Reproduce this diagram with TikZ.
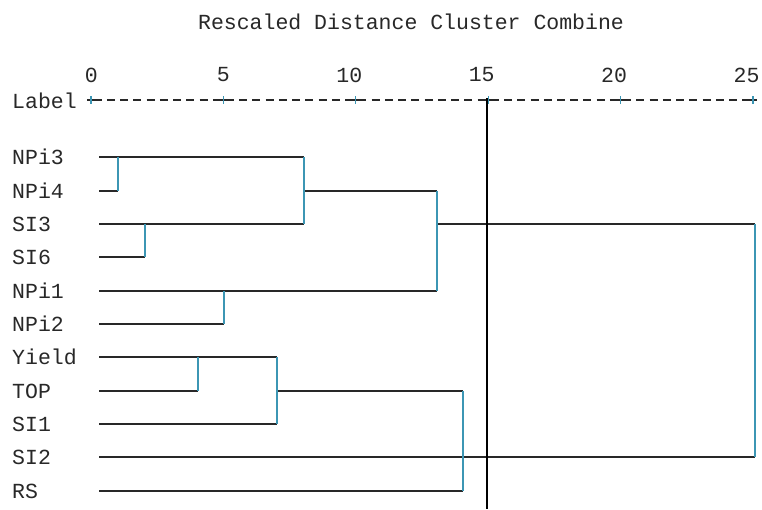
\documentclass[tikz,border=0pt]{standalone}
\usepackage{fontspec}
\usepackage{tikz}
\newfontfamily\spssfont{Liberation Mono}
\definecolor{inkgray}{RGB}{40,40,40}
\definecolor{vteal}{RGB}{60,150,180}
\tikzset{lbl/.style = {font = \spssfont\fontsize{21.5}{21.5}\selectfont, text = inkgray, inner sep = 0}}
\tikzset{hline/.style = {draw = inkgray, line width = 1.3pt}}
\tikzset{vline/.style = {draw = vteal, line width = 1.3pt}}

\begin{document}
\begin{tikzpicture}[x = 1pt, y = -1pt]
    \useasboundingbox (0, 0) rectangle (762, 509);

    \node [lbl] (title) at (411, 22) {Rescaled Distance Cluster Combine};

    % scale along the top
    \node [lbl, anchor = west] (label) at (12, 101) {Label};
    \coordinate (ax0) at (91, 100);
    \coordinate (ax25) at (753, 100);
    \draw [inkgray, line width = 1.3pt, dash pattern = on 8pt off 5.24pt, dash phase = -2.6pt] (ax0) -- (ax25);
    \foreach \v in {0, 5, ..., 25} {
        \draw [inkgray, line width = 1.3pt] ({91 + 26.48*\v - 4}, 100) -- +(8, 0);
        \draw [vteal, line width = 1.1pt] ({91 + 26.48*\v}, 96) -- +(0, 8);
    }
    \node [lbl, anchor = east] (t0) at (98, 75) {0};
    \foreach \v in {5, 10, ..., 25} {
        \node [lbl, anchor = east] (t\v) at ({91 + 26.48*\v + 6.6}, 75) {\v};
    }

    % leaves
    \foreach \name/\y in {NPi3/157, NPi4/191, SI3/224, SI6/257, NPi1/291, NPi2/324,
                          Yield/357, TOP/391, SI1/424, SI2/457, RS/491} {
        \node [lbl, anchor = west] (\name) at (12, \y) {\name};
        \coordinate (\name-s) at (99, \y);
    }

    % merge points
    \coordinate (a1) at (118, 157);   \coordinate (a2) at (118, 191);
    \coordinate (b1) at (145, 224);   \coordinate (b2) at (145, 257);
    \coordinate (c1) at (304, 157);   \coordinate (c2) at (304, 224);   \coordinate (cm) at (304, 191);
    \coordinate (d1) at (224, 291);   \coordinate (d2) at (224, 324);
    \coordinate (e1) at (437, 191);   \coordinate (e2) at (437, 291);   \coordinate (em) at (437, 224);
    \coordinate (f1) at (198, 357);   \coordinate (f2) at (198, 391);
    \coordinate (g1) at (277, 357);   \coordinate (g2) at (277, 424);   \coordinate (gm) at (277, 391);
    \coordinate (h1) at (463, 391);   \coordinate (h2) at (463, 491);
    \coordinate (k1) at (755, 224);   \coordinate (k2) at (755, 457);

    \draw [hline] (NPi3-s) -- (c1);
    \draw [hline] (NPi4-s) -- (a2);
    \draw [hline] (SI3-s) -- (c2);
    \draw [hline] (SI6-s) -- (b2);
    \draw [hline] (cm) -- (e1);
    \draw [hline] (NPi1-s) -- (e2);
    \draw [hline] (NPi2-s) -- (d2);
    \draw [hline] (em) -- (k1);
    \draw [hline] (Yield-s) -- (g1);
    \draw [hline] (TOP-s) -- (f2);
    \draw [hline] (SI1-s) -- (g2);
    \draw [hline] (gm) -- (h1);
    \draw [hline] (SI2-s) -- (k2);
    \draw [hline] (RS-s) -- (h2);

    \draw [vline] (a1) -- (a2);
    \draw [vline] (b1) -- (b2);
    \draw [vline] (c1) -- (c2);
    \draw [vline] (d1) -- (d2);
    \draw [vline] (e1) -- (e2);
    \draw [vline] (f1) -- (f2);
    \draw [vline] (g1) -- (g2);
    \draw [vline] (h1) -- (h2);
    \draw [vline] (k1) -- (k2);

    % cut line at 15
    \coordinate (cut1) at (487, 98);
    \coordinate (cut2) at (487, 509);
    \draw [black, line width = 1.3pt] (cut1) -- (cut2);
\end{tikzpicture}
\end{document}
